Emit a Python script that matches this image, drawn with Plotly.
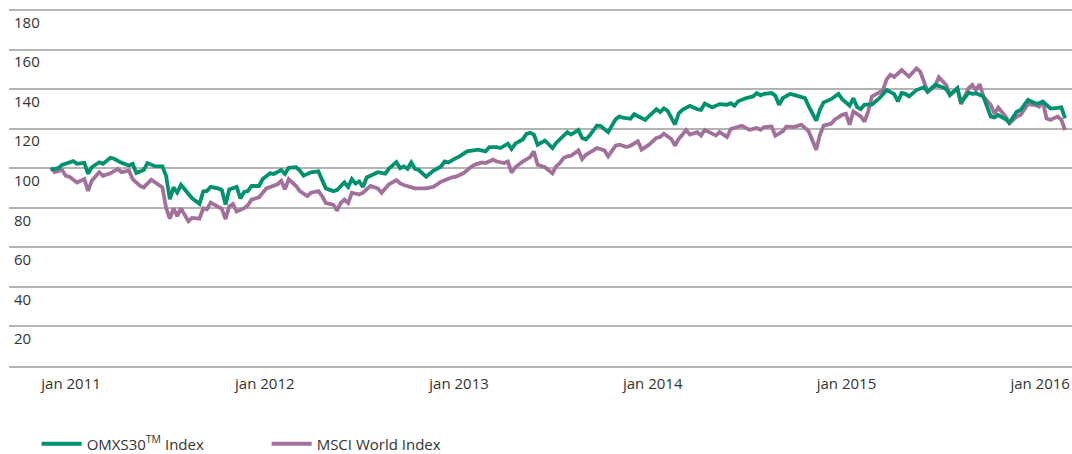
import pandas as pd
import plotly.graph_objects as go

START = "2010-11-24"

omx_weeks = [0, 2, 3, 6, 7, 9, 10, 11, 13, 14, 16, 17, 19, 21, 22, 23, 25, 26, 28, 30,
             31, 32, 33, 34, 35, 37, 38, 40, 41, 42, 43, 45, 46, 47, 48, 50, 51, 52, 53, 54,
             56, 57, 59, 60, 62, 63, 64, 66, 67, 68, 70, 72, 73, 74, 76, 77, 79, 80, 81, 82,
             83, 84, 85, 87, 88, 90, 91, 93, 94, 95, 96, 97, 98, 99, 101, 103, 105, 106, 107, 109,
             110, 112, 114, 115, 117, 118, 120, 121, 123, 124, 125, 127, 128, 129, 130, 131, 133, 135, 136, 138,
             139, 140, 142, 143, 144, 145, 147, 148, 150, 152, 153, 154, 156, 157, 159, 160, 161, 163, 164, 165,
             166, 168, 169, 170, 172, 174, 175, 176, 178, 179, 180, 182, 183, 184, 185, 187, 189, 190, 191, 192,
             194, 195, 196, 197, 199, 200, 202, 203, 204, 206, 207, 208, 210, 212, 213, 215, 216, 217, 218, 219,
             221, 222, 223, 225, 227, 228, 229, 230, 231, 233, 235, 236, 238, 240, 241, 242, 244, 245, 247, 248,
             249, 251, 253, 254, 255, 257, 258, 260, 261, 263, 265, 266, 267, 269, 270, 272, 273]
omx_values = [99.3, 100, 101.7, 103.6, 102.2, 102.7, 97.1, 100.5, 103, 102.2, 105.3, 104.8, 102.7, 101.4, 102.2, 97.6, 99.1, 102.6, 101, 100.9,
              96.2, 84.3, 90.3, 87.7, 91.6, 86.8, 84.8, 82, 88.2, 88.5, 90.6, 89.8, 89, 81.6, 89.3, 90.5, 84.7, 88, 88.4, 91,
              91, 94.5, 97.4, 97.1, 99.1, 97.1, 100.2, 100.5, 98.8, 96.2, 97.9, 98.4, 93.6, 89.8, 88.4, 89, 92.8, 90.5, 94.5, 92.2,
              93.3, 90.5, 95.3, 97.1, 98, 97.3, 99.8, 103.1, 100, 100.9, 99.7, 102.9, 99.7, 99.1, 95.7, 98.8, 100.9, 103.4, 102.9, 105.1,
              106, 108.5, 109, 109.4, 108.5, 110.7, 110.7, 110.2, 112.4, 109.7, 112.4, 114.5, 117.4, 117.9, 117, 111.9, 114, 110.2, 112.8, 116.5,
              118.2, 117, 119.3, 115.3, 114.5, 116.5, 121.6, 121.3, 118.2, 124.7, 126.1, 125.6, 125, 127.3, 125, 124.4, 126.4, 129.8, 128.4, 130.2,
              129, 122.1, 127.8, 129.5, 131.5, 129.8, 129.5, 132.7, 130.7, 131.5, 132.4, 132.1, 132.9, 131.6, 133.8, 135.4, 136.3, 138, 136.8, 137.6,
              138, 136.6, 132.1, 135.4, 137.6, 137.1, 136, 135.4, 131.2, 124.1, 129.5, 133.3, 134.9, 137.6, 134.9, 131.6, 135.4, 130.9, 129.9, 132.1,
              132.1, 133.8, 135.4, 139.5, 137.5, 133.8, 138, 137.6, 136.3, 139.5, 140.9, 138.7, 142.1, 140.9, 139.9, 137, 140.4, 133.1, 138.2, 137.6,
              137.9, 136.2, 126.1, 125.7, 126.9, 124.7, 123, 128.6, 129.4, 134.5, 132.8, 132.8, 133.7, 130.3, 130.3, 130.8, 125.2]

msci_weeks = [0, 1, 3, 4, 5, 7, 9, 10, 11, 13, 14, 16, 18, 19, 21, 22, 24, 25, 27, 28,
              30, 31, 32, 33, 34, 35, 37, 38, 40, 41, 42, 43, 45, 46, 47, 48, 49, 50, 52, 53,
              54, 56, 58, 60, 61, 62, 63, 64, 66, 67, 69, 70, 72, 73, 74, 76, 77, 78, 79, 80,
              81, 83, 84, 86, 88, 89, 91, 93, 94, 95, 97, 98, 101, 103, 105, 106, 108, 109, 111, 113,
              114, 116, 117, 119, 120, 122, 123, 124, 125, 127, 129, 130, 131, 133, 135, 136, 137, 138, 139, 140,
              142, 143, 144, 146, 147, 149, 150, 152, 153, 155, 156, 158, 159, 161, 163, 164, 165, 167, 168, 169,
              171, 172, 174, 175, 176, 178, 179, 180, 182, 183, 185, 186, 188, 190, 191, 192, 194, 195, 197, 198,
              200, 201, 202, 204, 206, 207, 208, 210, 211, 213, 214, 215, 216, 218, 219, 220, 221, 223, 224, 225,
              226, 227, 229, 231, 233, 234, 236, 238, 239, 241, 242, 244, 245, 247, 248, 249, 250, 251, 253, 254,
              255, 257, 258, 260, 261, 263, 265, 266, 267, 268, 269, 271, 272, 273]
msci_values = [100.2, 98, 99.1, 96.2, 95.7, 92.8, 94.5, 88.5, 93.7, 98, 96.2, 97.4, 99.7, 98, 98.8, 94.5, 91.1, 90.3, 94.2, 92.8,
               90.3, 80, 74.5, 79.7, 75.8, 79.7, 73.2, 74.9, 74.5, 79.7, 79.2, 82.6, 80.7, 79.5, 74.3, 80.7, 81.9, 78.1, 79.8, 81.2,
               84.1, 85.3, 89.8, 91, 91.9, 93.6, 89.3, 94.5, 91, 88.4, 85.9, 87.6, 88.4, 85.9, 82.4, 81.6, 78.6, 82.4, 84.1, 82.4,
               87.6, 86.7, 87.6, 91, 89.8, 87.6, 91.9, 94, 92.3, 91.5, 90.6, 89.8, 89.8, 90.6, 93.2, 94, 95.4, 95.7, 97.4, 100.5,
               101.7, 102.9, 102.6, 104.3, 103.4, 102.6, 103.4, 97.8, 100.5, 103.4, 105.6, 108.5, 101.7, 100.5, 97.4, 100.9, 102.6, 105.1, 106, 106.3,
               109, 104.6, 106.8, 109, 110.2, 109, 106, 111.4, 111.9, 110.7, 111.4, 113.6, 109.4, 111.9, 115.3, 115.8, 117.5, 114.8, 111.4, 114.8,
               119.3, 117, 118.2, 116.5, 119.3, 117.5, 116.5, 118.2, 115.8, 119.8, 120.8, 121.5, 119.4, 120.3, 119.4, 120.8, 121.1, 116.4, 118.6, 121.1,
               120.8, 121.5, 122, 118.6, 109.3, 116.9, 121.5, 122.5, 124.5, 127, 127.5, 122, 128.7, 126.2, 123.6, 128.7, 136.3, 138.3, 139.7, 145.1,
               147.3, 146.2, 149.6, 146.3, 150.5, 148.8, 138.7, 141.6, 146, 142.1, 137, 140.4, 132.4, 140.4, 142.1, 139.5, 142.5, 136.2, 131.9, 127.4,
               130.7, 126.1, 122.7, 126.1, 126.9, 132.4, 131.9, 131.1, 133.7, 125.2, 124.4, 126.1, 124.4, 119.3]

tick_dates = ["2011-01-01", "2012-01-01", "2013-01-01", "2014-01-01", "2015-01-01", "2016-01-01"]
tick_labels = ["jan 2011", "jan 2012", "jan 2013", "jan 2014", "jan 2015", "jan 2016"]
y_ticks = [20, 40, 60, 80, 100, 120, 140, 160, 180]
y_labels = ["20", "40", "60", "80", "100", "120", "140", "160", "180"]

series_names = ["OMXS30<sup>TM</sup> Index", "MSCI World Index"]
colors = ["#00916e", "#a1719b"]


def to_dates(weeks):
    return pd.to_datetime(START) + pd.to_timedelta([w * 7 for w in weeks], unit="D")


fig = go.Figure()
# purple first so the green line sits on top, legend order kept by legendrank
fig.add_trace(go.Scatter(x=to_dates(msci_weeks), y=msci_values, mode="lines",
                         name=series_names[1], legendrank=2,
                         line=dict(color=colors[1], width=3.8)))
fig.add_trace(go.Scatter(x=to_dates(omx_weeks), y=omx_values, mode="lines",
                         name=series_names[0], legendrank=1,
                         line=dict(color=colors[0], width=3.8)))

font_family = "Open Sans, Liberation Sans, sans-serif"
grid_color = "#b3b3b3"

fig.update_layout(
    width=1072, height=454,
    margin=dict(l=9, r=0, t=8, b=88),
    paper_bgcolor="white", plot_bgcolor="white",
    font=dict(family=font_family, size=15, color="#333333"),
    showlegend=True,
    legend=dict(orientation="h", x=0.026, xanchor="left",
                yref="container", y=0.022, yanchor="middle",
                font=dict(size=15, color="#333333"), entrywidth=175, entrywidthmode="pixels",
                itemwidth=40),
    xaxis=dict(type="date", range=["2010-09-06", "2016-03-01"], automargin=False,
               tickvals=tick_dates, ticktext=tick_labels,
               showgrid=False, zeroline=False, ticks="",
               showline=True, linecolor=grid_color, linewidth=1.5,
               ticklabelstandoff=3,
               tickfont=dict(size=15, color="#333333")),
    yaxis=dict(range=[0, 181], automargin=False, tickvals=y_ticks, ticktext=y_labels,
               showgrid=True, gridcolor=grid_color, gridwidth=1.5,
               zeroline=False, showline=False, ticks="",
               ticklabelposition="inside bottom", ticklabelshift=2, ticklabelstandoff=2,
               tickfont=dict(size=15, color="#333333")),
)

# remove the browser's default 8px body margin so the figure fills the window exactly
fig.write_html("out.html", config={"displayModeBar": False},
               post_script="document.body.style.margin='0';document.body.style.overflow='hidden';")
